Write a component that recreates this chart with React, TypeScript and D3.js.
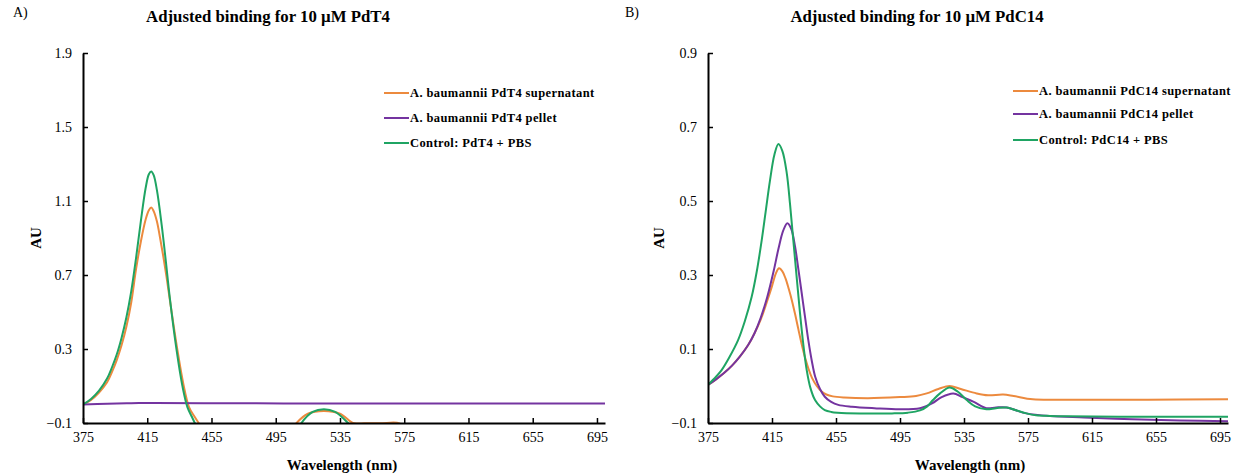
import { useEffect, useRef } from 'react';
import * as d3 from 'd3';

// ---- Panel A: 10 µM PdT4 ----
const pdT4SupNm = [375, 380, 385, 390, 393, 396, 399, 402, 405, 408, 411, 414, 416, 417.5, 419, 421, 423, 425, 427, 429.5, 433.5, 437.5, 441, 444, 447, 450, 505, 508, 515, 525, 535, 543, 546, 550, 560, 572, 576, 700];
const pdT4SupAU = [0.0, 0.025, 0.065, 0.12, 0.175, 0.24, 0.32, 0.42, 0.55, 0.73, 0.88, 1.0, 1.05, 1.065, 1.045, 0.99, 0.9, 0.8, 0.69, 0.54, 0.31, 0.11, -0.014, -0.06, -0.1, -0.14, -0.14, -0.1, -0.05, -0.035, -0.05, -0.1, -0.103, -0.102, -0.102, -0.102, -0.14, -0.14];

const pdT4PelNm = [375, 390, 405, 420, 450, 500, 550, 600, 650, 700];
const pdT4PelAU = [0.0, 0.004, 0.007, 0.008, 0.007, 0.006, 0.006, 0.006, 0.006, 0.006];

const pdT4CtlNm = [375, 380, 385, 390, 393, 396, 399, 402, 405, 408, 411, 414, 416, 417.5, 419, 421, 424, 426.5, 429, 433, 437, 440, 443, 446, 450, 508, 511, 518, 525, 532, 540, 545, 700];
const pdT4CtlAU = [0.0, 0.03, 0.075, 0.14, 0.2, 0.27, 0.36, 0.47, 0.61, 0.79, 0.99, 1.17, 1.245, 1.26, 1.24, 1.16, 0.97, 0.78, 0.58, 0.31, 0.095, -0.014, -0.07, -0.12, -0.15, -0.15, -0.1, -0.04, -0.025, -0.04, -0.1, -0.15, -0.15];

// ---- Panel B: 10 µM PdC14 ----
const pdC14SupNm = [375, 380, 385, 390, 395, 400, 404, 408, 412, 415, 417.5, 419.4, 421.5, 423.5, 425.5, 427.5, 429.5, 431.5, 433.6, 435.7, 437.7, 440, 443, 446, 449, 453, 460, 475, 495, 505, 511.7, 519, 526, 533, 542.9, 550, 559.5, 566, 578, 600, 650, 700];
const pdC14SupAU = [0.003, 0.018, 0.035, 0.055, 0.08, 0.11, 0.142, 0.18, 0.23, 0.27, 0.305, 0.318, 0.31, 0.29, 0.262, 0.23, 0.193, 0.153, 0.112, 0.076, 0.048, 0.022, 0.0, -0.015, -0.023, -0.028, -0.031, -0.033, -0.03, -0.027, -0.02, -0.008, 0.0, -0.008, -0.02, -0.025, -0.023, -0.027, -0.036, -0.037, -0.037, -0.036];

const pdC14PelNm = [375, 380, 385, 390, 395, 400, 404, 408, 412, 416, 419, 422, 424.6, 427, 429.4, 431.5, 433.6, 435.7, 437.7, 440, 442, 445, 448, 452, 456.4, 465, 479, 495, 507.5, 515, 521, 528.3, 534, 540.8, 549, 555, 561.7, 567, 574, 588.75, 610, 640, 670, 700];
const pdC14PelAU = [0.003, 0.018, 0.035, 0.055, 0.08, 0.11, 0.142, 0.185, 0.24, 0.31, 0.37, 0.42, 0.44, 0.425, 0.377, 0.315, 0.25, 0.185, 0.124, 0.065, 0.025, -0.008, -0.029, -0.043, -0.051, -0.056, -0.06, -0.063, -0.06, -0.047, -0.03, -0.02, -0.03, -0.042, -0.06, -0.058, -0.058, -0.065, -0.074, -0.081, -0.085, -0.09, -0.093, -0.095];

const pdC14CtlNm = [375, 380, 383.5, 388, 393.8, 398, 402.3, 405.5, 408.6, 411, 413.8, 416.5, 419, 421.5, 424.2, 426.3, 428.3, 430.5, 432.5, 434.5, 436.7, 439, 441.9, 445, 448, 452, 456, 470, 490, 500, 507.5, 512, 515.6, 520, 526, 531, 536.7, 542, 549, 555, 561.7, 567, 574, 580, 588.75, 600, 650, 700];
const pdC14CtlAU = [0.003, 0.025, 0.043, 0.075, 0.124, 0.175, 0.241, 0.31, 0.395, 0.47, 0.557, 0.625, 0.654, 0.635, 0.576, 0.49, 0.395, 0.29, 0.197, 0.115, 0.043, -0.005, -0.038, -0.055, -0.065, -0.07, -0.072, -0.074, -0.074, -0.072, -0.066, -0.055, -0.038, -0.02, -0.004, -0.015, -0.038, -0.055, -0.063, -0.06, -0.058, -0.065, -0.074, -0.079, -0.081, -0.082, -0.083, -0.083];

const xTicks = [375, 415, 455, 495, 535, 575, 615, 655, 695];
const yTicksA = [-0.1, 0.3, 0.7, 1.1, 1.5, 1.9];
const yTicksB = [-0.1, 0.1, 0.3, 0.5, 0.7, 0.9];

const ORANGE = '#EC8A3E';
const PURPLE = '#7434A0';
const GREEN = '#1FA463';

const panels = [
  {
    id: 'a', tag: 'A)', title: 'Adjusted binding for 10 µM PdT4',
    left: 83, right: 605, yMax: 1.9, yTicks: yTicksA,
    tagX: 13, titleX: 268, auX: 41, xLabelX: 342,
    legendX: 384, legendY: [93, 118, 143],
    series: [
      { label: 'A. baumannii PdT4 supernatant', nm: pdT4SupNm, au: pdT4SupAU, color: ORANGE },
      { label: 'A. baumannii PdT4 pellet', nm: pdT4PelNm, au: pdT4PelAU, color: PURPLE },
      { label: 'Control: PdT4 + PBS', nm: pdT4CtlNm, au: pdT4CtlAU, color: GREEN },
    ],
  },
  {
    id: 'b', tag: 'B)', title: 'Adjusted binding for 10 µM PdC14',
    left: 708, right: 1228, yMax: 0.9, yTicks: yTicksB,
    tagX: 625, titleX: 917, auX: 664, xLabelX: 970,
    legendX: 1013, legendY: [91, 114, 140],
    series: [
      { label: 'A. baumannii PdC14 supernatant', nm: pdC14SupNm, au: pdC14SupAU, color: ORANGE },
      { label: 'A. baumannii PdC14 pellet', nm: pdC14PelNm, au: pdC14PelAU, color: PURPLE },
      { label: 'Control: PdC14 + PBS', nm: pdC14CtlNm, au: pdC14CtlAU, color: GREEN },
    ],
  },
];

const FONT = 'Liberation Serif, Times New Roman, DejaVu Serif, serif';

export default function App() {
  const svgRef = useRef<SVGSVGElement>(null);

  useEffect(() => {
    const svg = d3.select(svgRef.current);
    svg.selectAll('*').remove();

    const top = 53;
    const bottom = 423;

    panels.forEach((p) => {
      const x = d3.scaleLinear().domain([375, 700]).range([p.left, p.right]);
      const y = d3.scaleLinear().domain([-0.1, p.yMax]).range([bottom, top]);
      const g = svg.append('g');

      // clip so curves going below -0.1 are cut at the axis
      svg.append('defs').append('clipPath').attr('id', `clip-${p.id}`)
        .append('rect')
        .attr('x', p.left).attr('y', top - 5)
        .attr('width', p.right - p.left).attr('height', bottom - top + 5);

      const line = d3.line<[number, number]>()
        .x(d => x(d[0]))
        .y(d => y(d[1]))
        .curve(d3.curveCatmullRom.alpha(0.5));

      p.series.forEach((s) => {
        const pts = s.nm.map((n, i) => [n, s.au[i]] as [number, number]);
        g.append('path')
          .datum(pts)
          .attr('clip-path', `url(#clip-${p.id})`)
          .attr('fill', 'none')
          .attr('stroke', s.color)
          .attr('stroke-width', 2)
          .attr('d', line);
      });

      // axes
      const xAxis = g.append('g')
        .attr('transform', `translate(0,${bottom})`)
        .call(d3.axisBottom(x).tickValues(xTicks).tickSizeInner(-5).tickSizeOuter(0).tickPadding(9).tickFormat(d3.format('d')));
      xAxis.select('.domain').attr('stroke-width', 2);
      xAxis.selectAll('line').attr('stroke-width', 1.5);
      xAxis.selectAll('text').style('font-family', FONT).style('font-size', '14px').attr('fill', '#000');

      const yAxis = g.append('g')
        .attr('transform', `translate(${p.left},0)`)
        .call(d3.axisLeft(y).tickValues(p.yTicks).tickSizeInner(-5).tickSizeOuter(0).tickPadding(11).tickFormat(d3.format('.1f')));
      yAxis.select('.domain').attr('stroke-width', 2);
      yAxis.selectAll('line').attr('stroke-width', 1.5);
      yAxis.selectAll('text').style('font-family', FONT).style('font-size', '14px').attr('fill', '#000');

      // titles
      svg.append('text')
        .attr('x', p.titleX).attr('y', 22)
        .attr('text-anchor', 'middle')
        .style('font-family', FONT).style('font-size', '16.8px').style('font-weight', 'bold')
        .text(p.title);
      svg.append('text')
        .attr('x', p.tagX).attr('y', 17)
        .style('font-family', FONT).style('font-size', '14px')
        .text(p.tag);
      svg.append('text')
        .attr('transform', `translate(${p.auX},${(top + bottom) / 2}) rotate(-90)`)
        .attr('text-anchor', 'middle')
        .style('font-family', FONT).style('font-size', '15px').style('font-weight', 'bold')
        .text('AU');
      svg.append('text')
        .attr('x', p.xLabelX).attr('y', 470)
        .attr('text-anchor', 'middle')
        .style('font-family', FONT).style('font-size', '15px').style('font-weight', 'bold')
        .text('Wavelength (nm)');

      // legend
      p.series.forEach((s, i) => {
        const ly = p.legendY[i];
        svg.append('line')
          .attr('x1', p.legendX).attr('x2', p.legendX + 25)
          .attr('y1', ly).attr('y2', ly)
          .attr('stroke', s.color).attr('stroke-width', 2);
        svg.append('text')
          .attr('x', p.legendX + 26).attr('y', ly + 4)
          .style('font-family', FONT).style('font-size', '12.5px').style('font-weight', 'bold')
          .style('letter-spacing', '0.4px')
          .text(s.label);
      });
    });
  }, []);

  return (
    <svg
      ref={svgRef}
      width={1249}
      height={474}
      style={{ position: 'absolute', left: 0, top: 0, background: '#fff' }}
    />
  );
}
